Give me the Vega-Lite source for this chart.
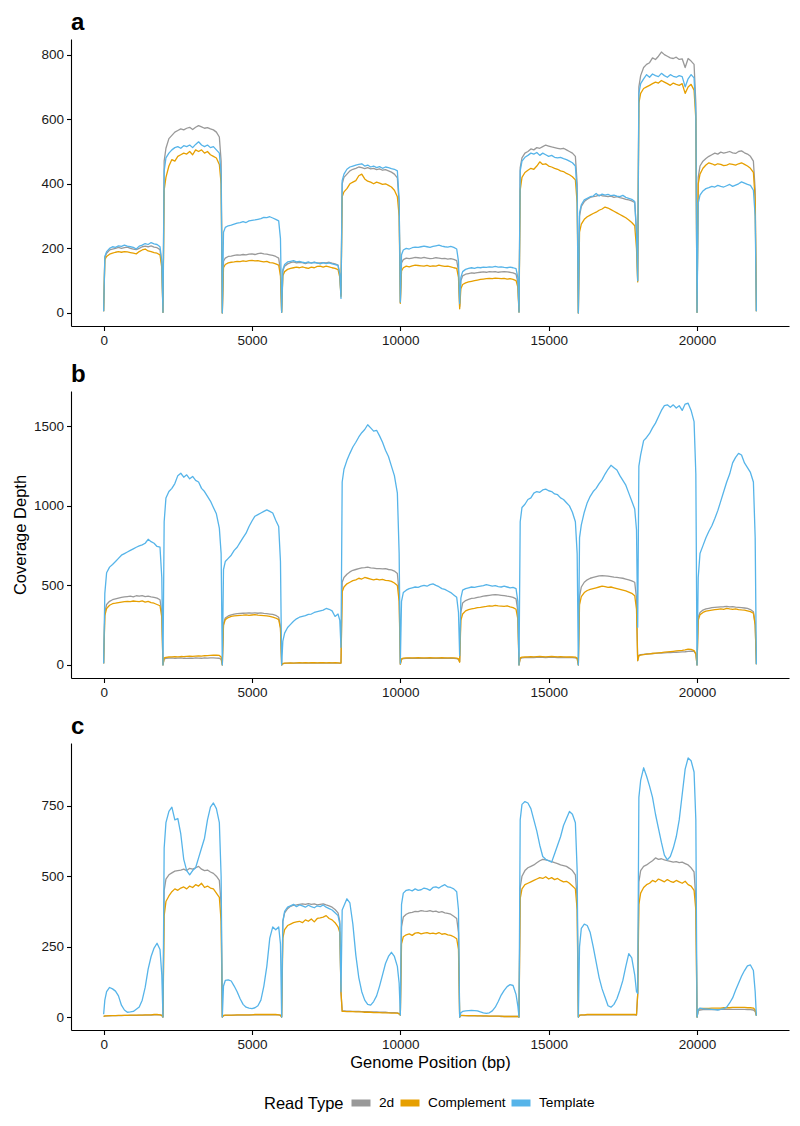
{
"$schema":"https://vega.github.io/schema/vega-lite/v6.json",
"padding":{"left":12,"top":11,"right":10,"bottom":5},
"config":{"font":"Liberation Sans","view":{"stroke":null},
"axis":{"grid":false,"domainColor":"black","domainWidth":1.1,"tickColor":"black","tickWidth":1.1,"tickSize":4.5,"labelFontSize":13.5,"labelColor":"#1a1a1a","labelPadding":3,"titleFontSize":16.5,"titleFontWeight":"normal","titleColor":"black"},
"title":{"fontSize":24,"fontWeight":"bold","anchor":"start","frame":"group","color":"black","offset":4}},
"spacing":16,
"resolve":{"scale":{"color":"shared","y":"independent"}},
"datasets":{
"a":[
{"x":0,"2d":5,"Complement":5,"Template":5},{"x":40,"2d":172,"Complement":165,"Template":175},{"x":100,"2d":185,"Complement":175,"Template":190},{"x":200,"2d":195,"Complement":182,"Template":200},{"x":300,"2d":198,"Complement":185,"Template":205},{"x":400,"2d":200,"Complement":188,"Template":203},{"x":500,"2d":203,"Complement":190,"Template":208},{"x":600,"2d":200,"Complement":188,"Template":206},{"x":700,"2d":202,"Complement":190,"Template":210},{"x":800,"2d":204,"Complement":189,"Template":207},{"x":900,"2d":200,"Complement":187,"Template":205},{"x":1000,"2d":198,"Complement":185,"Template":203},{"x":1100,"2d":196,"Complement":183,"Template":198},{"x":1200,"2d":200,"Complement":190,"Template":207},{"x":1300,"2d":205,"Complement":195,"Template":210},{"x":1400,"2d":207,"Complement":198,"Template":215},{"x":1500,"2d":205,"Complement":192,"Template":212},{"x":1600,"2d":208,"Complement":190,"Template":218},{"x":1700,"2d":204,"Complement":187,"Template":214},{"x":1800,"2d":202,"Complement":185,"Template":212},{"x":1900,"2d":196,"Complement":180,"Template":205},{"x":1960,"2d":150,"Complement":140,"Template":160},
{"x":2000,"2d":2,"Complement":2,"Template":2},{"x":2040,"2d":470,"Complement":380,"Template":440},{"x":2100,"2d":510,"Complement":420,"Template":480},{"x":2200,"2d":540,"Complement":455,"Template":495},{"x":2300,"2d":550,"Complement":475,"Template":505},{"x":2400,"2d":560,"Complement":470,"Template":512},{"x":2500,"2d":565,"Complement":485,"Template":515},{"x":2600,"2d":570,"Complement":490,"Template":510},{"x":2700,"2d":567,"Complement":495,"Template":518},{"x":2800,"2d":572,"Complement":492,"Template":515},{"x":2900,"2d":575,"Complement":500,"Template":520},{"x":3000,"2d":568,"Complement":490,"Template":512},{"x":3100,"2d":575,"Complement":505,"Template":522},{"x":3200,"2d":580,"Complement":500,"Template":530},{"x":3300,"2d":576,"Complement":505,"Template":520},{"x":3400,"2d":572,"Complement":495,"Template":515},{"x":3500,"2d":574,"Complement":500,"Template":520},{"x":3600,"2d":570,"Complement":490,"Template":512},{"x":3700,"2d":567,"Complement":485,"Template":515},{"x":3800,"2d":560,"Complement":480,"Template":505},{"x":3900,"2d":545,"Complement":460,"Template":495},{"x":3960,"2d":470,"Complement":400,"Template":430},
{"x":4000,"2d":0,"Complement":0,"Template":0},{"x":4040,"2d":160,"Complement":140,"Template":250},{"x":4100,"2d":170,"Complement":150,"Template":265},{"x":4200,"2d":175,"Complement":155,"Template":270},{"x":4300,"2d":176,"Complement":157,"Template":272},{"x":4400,"2d":178,"Complement":158,"Template":275},{"x":4500,"2d":180,"Complement":160,"Template":278},{"x":4600,"2d":179,"Complement":159,"Template":280},{"x":4700,"2d":181,"Complement":161,"Template":283},{"x":4800,"2d":180,"Complement":160,"Template":280},{"x":4900,"2d":182,"Complement":162,"Template":285},{"x":5000,"2d":183,"Complement":163,"Template":287},{"x":5100,"2d":181,"Complement":161,"Template":288},{"x":5200,"2d":184,"Complement":162,"Template":290},{"x":5300,"2d":185,"Complement":160,"Template":292},{"x":5400,"2d":183,"Complement":158,"Template":296},{"x":5500,"2d":182,"Complement":160,"Template":295},{"x":5600,"2d":180,"Complement":156,"Template":298},{"x":5700,"2d":178,"Complement":155,"Template":294},{"x":5800,"2d":175,"Complement":152,"Template":290},{"x":5900,"2d":170,"Complement":148,"Template":285},{"x":5960,"2d":130,"Complement":115,"Template":230},
{"x":6000,"2d":2,"Complement":2,"Template":2},{"x":6040,"2d":130,"Complement":115,"Template":135},{"x":6100,"2d":145,"Complement":128,"Template":150},{"x":6200,"2d":152,"Complement":135,"Template":158},{"x":6300,"2d":156,"Complement":138,"Template":160},{"x":6400,"2d":158,"Complement":140,"Template":162},{"x":6500,"2d":155,"Complement":142,"Template":158},{"x":6600,"2d":157,"Complement":140,"Template":160},{"x":6700,"2d":156,"Complement":143,"Template":157},{"x":6800,"2d":153,"Complement":140,"Template":155},{"x":6900,"2d":156,"Complement":138,"Template":158},{"x":7000,"2d":155,"Complement":142,"Template":154},{"x":7100,"2d":157,"Complement":140,"Template":157},{"x":7200,"2d":154,"Complement":144,"Template":155},{"x":7300,"2d":155,"Complement":145,"Template":152},{"x":7400,"2d":156,"Complement":142,"Template":156},{"x":7500,"2d":155,"Complement":145,"Template":153},{"x":7600,"2d":157,"Complement":143,"Template":155},{"x":7700,"2d":154,"Complement":140,"Template":152},{"x":7800,"2d":152,"Complement":138,"Template":150},{"x":7900,"2d":148,"Complement":134,"Template":147},{"x":7960,"2d":118,"Complement":110,"Template":120},
{"x":8000,"2d":55,"Complement":50,"Template":45},{"x":8040,"2d":400,"Complement":360,"Template":410},{"x":8100,"2d":420,"Complement":375,"Template":430},{"x":8200,"2d":430,"Complement":385,"Template":445},{"x":8300,"2d":440,"Complement":400,"Template":452},{"x":8400,"2d":445,"Complement":405,"Template":455},{"x":8500,"2d":448,"Complement":410,"Template":458},{"x":8600,"2d":452,"Complement":425,"Template":460},{"x":8700,"2d":450,"Complement":430,"Template":462},{"x":8800,"2d":447,"Complement":415,"Template":455},{"x":8900,"2d":450,"Complement":408,"Template":458},{"x":9000,"2d":446,"Complement":405,"Template":452},{"x":9100,"2d":448,"Complement":400,"Template":455},{"x":9200,"2d":444,"Complement":405,"Template":450},{"x":9300,"2d":446,"Complement":402,"Template":453},{"x":9400,"2d":442,"Complement":398,"Template":448},{"x":9500,"2d":444,"Complement":400,"Template":452},{"x":9600,"2d":440,"Complement":395,"Template":450},{"x":9700,"2d":436,"Complement":390,"Template":447},{"x":9800,"2d":430,"Complement":380,"Template":445},{"x":9900,"2d":418,"Complement":360,"Template":440},{"x":9960,"2d":340,"Complement":300,"Template":350},
{"x":10000,"2d":32,"Complement":30,"Template":34},{"x":10040,"2d":155,"Complement":130,"Template":180},{"x":10100,"2d":165,"Complement":140,"Template":195},{"x":10200,"2d":170,"Complement":145,"Template":200},{"x":10300,"2d":168,"Complement":143,"Template":198},{"x":10400,"2d":170,"Complement":146,"Template":202},{"x":10500,"2d":172,"Complement":148,"Template":204},{"x":10600,"2d":171,"Complement":147,"Template":203},{"x":10700,"2d":170,"Complement":146,"Template":205},{"x":10800,"2d":172,"Complement":145,"Template":207},{"x":10900,"2d":170,"Complement":147,"Template":205},{"x":11000,"2d":168,"Complement":144,"Template":203},{"x":11100,"2d":169,"Complement":146,"Template":206},{"x":11200,"2d":171,"Complement":145,"Template":208},{"x":11300,"2d":170,"Complement":148,"Template":210},{"x":11400,"2d":168,"Complement":146,"Template":207},{"x":11500,"2d":169,"Complement":144,"Template":205},{"x":11600,"2d":167,"Complement":145,"Template":204},{"x":11700,"2d":168,"Complement":143,"Template":206},{"x":11800,"2d":166,"Complement":140,"Template":203},{"x":11900,"2d":162,"Complement":138,"Template":198},{"x":11960,"2d":130,"Complement":110,"Template":160},
{"x":12000,"2d":20,"Complement":13,"Template":29},{"x":12040,"2d":100,"Complement":75,"Template":110},{"x":12100,"2d":115,"Complement":88,"Template":128},{"x":12200,"2d":120,"Complement":93,"Template":135},{"x":12300,"2d":122,"Complement":96,"Template":138},{"x":12400,"2d":124,"Complement":98,"Template":140},{"x":12500,"2d":123,"Complement":100,"Template":138},{"x":12600,"2d":125,"Complement":102,"Template":141},{"x":12700,"2d":126,"Complement":104,"Template":140},{"x":12800,"2d":127,"Complement":105,"Template":142},{"x":12900,"2d":126,"Complement":106,"Template":141},{"x":13000,"2d":128,"Complement":107,"Template":143},{"x":13100,"2d":127,"Complement":106,"Template":142},{"x":13200,"2d":128,"Complement":108,"Template":144},{"x":13300,"2d":126,"Complement":107,"Template":142},{"x":13400,"2d":127,"Complement":106,"Template":143},{"x":13500,"2d":128,"Complement":107,"Template":141},{"x":13600,"2d":127,"Complement":105,"Template":140},{"x":13700,"2d":126,"Complement":106,"Template":142},{"x":13800,"2d":124,"Complement":104,"Template":140},{"x":13900,"2d":120,"Complement":100,"Template":137},{"x":13960,"2d":95,"Complement":80,"Template":110},
{"x":14000,"2d":3,"Complement":3,"Template":3},{"x":14040,"2d":450,"Complement":380,"Template":440},{"x":14100,"2d":480,"Complement":420,"Template":470},{"x":14200,"2d":495,"Complement":435,"Template":482},{"x":14300,"2d":500,"Complement":442,"Template":488},{"x":14400,"2d":508,"Complement":448,"Template":495},{"x":14500,"2d":505,"Complement":445,"Template":492},{"x":14600,"2d":512,"Complement":455,"Template":497},{"x":14700,"2d":510,"Complement":468,"Template":488},{"x":14800,"2d":515,"Complement":460,"Template":495},{"x":14900,"2d":520,"Complement":462,"Template":490},{"x":15000,"2d":517,"Complement":455,"Template":485},{"x":15100,"2d":514,"Complement":452,"Template":488},{"x":15200,"2d":512,"Complement":448,"Template":482},{"x":15300,"2d":510,"Complement":445,"Template":480},{"x":15400,"2d":508,"Complement":440,"Template":482},{"x":15500,"2d":510,"Complement":438,"Template":478},{"x":15600,"2d":505,"Complement":432,"Template":475},{"x":15700,"2d":500,"Complement":428,"Template":470},{"x":15800,"2d":495,"Complement":422,"Template":465},{"x":15900,"2d":485,"Complement":412,"Template":455},{"x":15960,"2d":400,"Complement":340,"Template":370},
{"x":16000,"2d":0,"Complement":0,"Template":0},{"x":16040,"2d":300,"Complement":250,"Template":310},{"x":16100,"2d":330,"Complement":275,"Template":335},{"x":16200,"2d":345,"Complement":290,"Template":350},{"x":16300,"2d":352,"Complement":298,"Template":355},{"x":16400,"2d":358,"Complement":303,"Template":360},{"x":16500,"2d":360,"Complement":308,"Template":362},{"x":16600,"2d":362,"Complement":312,"Template":370},{"x":16700,"2d":365,"Complement":318,"Template":362},{"x":16800,"2d":363,"Complement":322,"Template":368},{"x":16900,"2d":362,"Complement":328,"Template":365},{"x":17000,"2d":360,"Complement":325,"Template":367},{"x":17100,"2d":362,"Complement":320,"Template":363},{"x":17200,"2d":358,"Complement":315,"Template":365},{"x":17300,"2d":360,"Complement":310,"Template":362},{"x":17400,"2d":357,"Complement":305,"Template":360},{"x":17500,"2d":355,"Complement":300,"Template":364},{"x":17600,"2d":352,"Complement":295,"Template":358},{"x":17700,"2d":350,"Complement":288,"Template":355},{"x":17800,"2d":347,"Complement":280,"Template":352},{"x":17900,"2d":342,"Complement":270,"Template":345},{"x":17960,"2d":250,"Complement":200,"Template":250},
{"x":18000,"2d":100,"Complement":96,"Template":100},{"x":18040,"2d":700,"Complement":650,"Template":680},{"x":18100,"2d":735,"Complement":680,"Template":710},{"x":18200,"2d":760,"Complement":695,"Template":725},{"x":18300,"2d":770,"Complement":700,"Template":738},{"x":18400,"2d":775,"Complement":705,"Template":730},{"x":18500,"2d":790,"Complement":710,"Template":740},{"x":18600,"2d":785,"Complement":715,"Template":735},{"x":18700,"2d":795,"Complement":712,"Template":732},{"x":18800,"2d":808,"Complement":720,"Template":742},{"x":18900,"2d":800,"Complement":715,"Template":735},{"x":19000,"2d":795,"Complement":710,"Template":730},{"x":19100,"2d":790,"Complement":705,"Template":738},{"x":19200,"2d":788,"Complement":712,"Template":733},{"x":19300,"2d":792,"Complement":708,"Template":730},{"x":19400,"2d":785,"Complement":705,"Template":735},{"x":19500,"2d":787,"Complement":710,"Template":732},{"x":19600,"2d":760,"Complement":680,"Template":700},{"x":19700,"2d":788,"Complement":700,"Template":725},{"x":19800,"2d":780,"Complement":708,"Template":738},{"x":19900,"2d":770,"Complement":690,"Template":728},{"x":19960,"2d":650,"Complement":600,"Template":620},
{"x":20000,"2d":2,"Complement":2,"Template":2},{"x":20040,"2d":420,"Complement":400,"Template":340},{"x":20100,"2d":455,"Complement":430,"Template":365},{"x":20200,"2d":470,"Complement":448,"Template":378},{"x":20300,"2d":478,"Complement":458,"Template":385},{"x":20400,"2d":485,"Complement":465,"Template":388},{"x":20500,"2d":490,"Complement":462,"Template":392},{"x":20600,"2d":495,"Complement":458,"Template":390},{"x":20700,"2d":492,"Complement":462,"Template":395},{"x":20800,"2d":498,"Complement":460,"Template":392},{"x":20900,"2d":495,"Complement":456,"Template":390},{"x":21000,"2d":497,"Complement":458,"Template":394},{"x":21100,"2d":500,"Complement":462,"Template":398},{"x":21200,"2d":496,"Complement":460,"Template":392},{"x":21300,"2d":494,"Complement":458,"Template":396},{"x":21400,"2d":500,"Complement":462,"Template":400},{"x":21500,"2d":502,"Complement":465,"Template":406},{"x":21600,"2d":496,"Complement":460,"Template":402},{"x":21700,"2d":492,"Complement":455,"Template":398},{"x":21800,"2d":485,"Complement":448,"Template":395},{"x":21900,"2d":470,"Complement":435,"Template":380},{"x":21960,"2d":380,"Complement":350,"Template":300},
{"x":22000,"2d":5,"Complement":5,"Template":5}
],
"b":[
{"x":0,"2d":10,"Complement":10,"Template":10},{"x":40,"2d":330,"Complement":310,"Template":450},{"x":100,"2d":380,"Complement":355,"Template":580},{"x":200,"2d":400,"Complement":375,"Template":615},{"x":300,"2d":410,"Complement":385,"Template":632},{"x":400,"2d":415,"Complement":388,"Template":650},{"x":500,"2d":420,"Complement":392,"Template":670},{"x":600,"2d":425,"Complement":395,"Template":690},{"x":700,"2d":428,"Complement":398,"Template":700},{"x":800,"2d":430,"Complement":400,"Template":710},{"x":900,"2d":432,"Complement":398,"Template":720},{"x":1000,"2d":428,"Complement":402,"Template":730},{"x":1100,"2d":435,"Complement":400,"Template":740},{"x":1200,"2d":432,"Complement":398,"Template":748},{"x":1300,"2d":436,"Complement":403,"Template":755},{"x":1400,"2d":430,"Complement":395,"Template":765},{"x":1500,"2d":432,"Complement":400,"Template":790},{"x":1600,"2d":428,"Complement":392,"Template":775},{"x":1700,"2d":425,"Complement":388,"Template":765},{"x":1800,"2d":420,"Complement":380,"Template":745},{"x":1900,"2d":410,"Complement":372,"Template":740},{"x":1960,"2d":330,"Complement":300,"Template":550},
{"x":2000,"2d":0,"Complement":0,"Template":0},{"x":2040,"2d":38,"Complement":45,"Template":900},{"x":2100,"2d":42,"Complement":48,"Template":1050},{"x":2200,"2d":43,"Complement":50,"Template":1090},{"x":2300,"2d":44,"Complement":51,"Template":1110},{"x":2400,"2d":42,"Complement":52,"Template":1140},{"x":2500,"2d":43,"Complement":51,"Template":1190},{"x":2600,"2d":44,"Complement":53,"Template":1205},{"x":2700,"2d":42,"Complement":52,"Template":1180},{"x":2800,"2d":41,"Complement":54,"Template":1195},{"x":2900,"2d":43,"Complement":55,"Template":1170},{"x":3000,"2d":42,"Complement":54,"Template":1185},{"x":3100,"2d":44,"Complement":56,"Template":1160},{"x":3200,"2d":43,"Complement":57,"Template":1150},{"x":3300,"2d":42,"Complement":56,"Template":1110},{"x":3400,"2d":44,"Complement":58,"Template":1090},{"x":3500,"2d":43,"Complement":59,"Template":1060},{"x":3600,"2d":45,"Complement":60,"Template":1030},{"x":3700,"2d":44,"Complement":61,"Template":990},{"x":3800,"2d":43,"Complement":62,"Template":950},{"x":3900,"2d":42,"Complement":60,"Template":860},{"x":3960,"2d":35,"Complement":50,"Template":700},
{"x":4000,"2d":0,"Complement":0,"Template":0},{"x":4040,"2d":260,"Complement":250,"Template":600},{"x":4100,"2d":295,"Complement":285,"Template":650},{"x":4200,"2d":308,"Complement":298,"Template":670},{"x":4300,"2d":315,"Complement":305,"Template":690},{"x":4400,"2d":320,"Complement":308,"Template":720},{"x":4500,"2d":322,"Complement":310,"Template":740},{"x":4600,"2d":324,"Complement":312,"Template":770},{"x":4700,"2d":325,"Complement":313,"Template":800},{"x":4800,"2d":326,"Complement":315,"Template":828},{"x":4900,"2d":328,"Complement":312,"Template":870},{"x":5000,"2d":326,"Complement":314,"Template":905},{"x":5100,"2d":328,"Complement":316,"Template":935},{"x":5200,"2d":325,"Complement":313,"Template":945},{"x":5300,"2d":327,"Complement":312,"Template":955},{"x":5400,"2d":324,"Complement":310,"Template":965},{"x":5500,"2d":322,"Complement":308,"Template":975},{"x":5600,"2d":320,"Complement":305,"Template":965},{"x":5700,"2d":318,"Complement":300,"Template":955},{"x":5800,"2d":312,"Complement":295,"Template":910},{"x":5900,"2d":300,"Complement":285,"Template":870},{"x":5960,"2d":240,"Complement":230,"Template":650},
{"x":6000,"2d":0,"Complement":0,"Template":0},{"x":6040,"2d":8,"Complement":8,"Template":150},{"x":6100,"2d":10,"Complement":11,"Template":200},{"x":6200,"2d":11,"Complement":12,"Template":235},{"x":6300,"2d":12,"Complement":13,"Template":255},{"x":6400,"2d":12,"Complement":12,"Template":275},{"x":6500,"2d":11,"Complement":13,"Template":290},{"x":6600,"2d":12,"Complement":14,"Template":300},{"x":6700,"2d":12,"Complement":13,"Template":305},{"x":6800,"2d":13,"Complement":14,"Template":310},{"x":6900,"2d":12,"Complement":13,"Template":318},{"x":7000,"2d":12,"Complement":14,"Template":320},{"x":7100,"2d":13,"Complement":14,"Template":330},{"x":7200,"2d":12,"Complement":13,"Template":335},{"x":7300,"2d":12,"Complement":14,"Template":340},{"x":7400,"2d":13,"Complement":14,"Template":345},{"x":7500,"2d":12,"Complement":13,"Template":355},{"x":7600,"2d":12,"Complement":14,"Template":350},{"x":7700,"2d":13,"Complement":13,"Template":340},{"x":7800,"2d":12,"Complement":14,"Template":305},{"x":7900,"2d":12,"Complement":13,"Template":320},{"x":7960,"2d":11,"Complement":12,"Template":280},
{"x":8000,"2d":12,"Complement":12,"Template":111},{"x":8040,"2d":520,"Complement":460,"Template":1150},{"x":8100,"2d":550,"Complement":490,"Template":1230},{"x":8200,"2d":570,"Complement":510,"Template":1286},{"x":8300,"2d":585,"Complement":520,"Template":1330},{"x":8400,"2d":595,"Complement":530,"Template":1370},{"x":8500,"2d":600,"Complement":535,"Template":1400},{"x":8600,"2d":605,"Complement":545,"Template":1433},{"x":8700,"2d":610,"Complement":540,"Template":1460},{"x":8800,"2d":612,"Complement":550,"Template":1480},{"x":8900,"2d":615,"Complement":545,"Template":1510},{"x":9000,"2d":610,"Complement":540,"Template":1490},{"x":9100,"2d":608,"Complement":535,"Template":1470},{"x":9200,"2d":605,"Complement":540,"Template":1475},{"x":9300,"2d":606,"Complement":535,"Template":1440},{"x":9400,"2d":604,"Complement":538,"Template":1400},{"x":9500,"2d":605,"Complement":532,"Template":1350},{"x":9600,"2d":600,"Complement":530,"Template":1310},{"x":9700,"2d":598,"Complement":525,"Template":1250},{"x":9800,"2d":590,"Complement":515,"Template":1190},{"x":9900,"2d":575,"Complement":500,"Template":1080},{"x":9960,"2d":450,"Complement":400,"Template":700},
{"x":10000,"2d":5,"Complement":5,"Template":10},{"x":10040,"2d":35,"Complement":38,"Template":400},{"x":10100,"2d":40,"Complement":43,"Template":455},{"x":10200,"2d":41,"Complement":44,"Template":470},{"x":10300,"2d":42,"Complement":45,"Template":480},{"x":10400,"2d":41,"Complement":44,"Template":485},{"x":10500,"2d":42,"Complement":45,"Template":490},{"x":10600,"2d":43,"Complement":46,"Template":488},{"x":10700,"2d":42,"Complement":45,"Template":495},{"x":10800,"2d":41,"Complement":44,"Template":500},{"x":10900,"2d":42,"Complement":45,"Template":495},{"x":11000,"2d":43,"Complement":46,"Template":505},{"x":11100,"2d":42,"Complement":45,"Template":510},{"x":11200,"2d":41,"Complement":44,"Template":500},{"x":11300,"2d":42,"Complement":45,"Template":492},{"x":11400,"2d":43,"Complement":46,"Template":480},{"x":11500,"2d":42,"Complement":45,"Template":475},{"x":11600,"2d":41,"Complement":44,"Template":465},{"x":11700,"2d":42,"Complement":45,"Template":455},{"x":11800,"2d":41,"Complement":44,"Template":440},{"x":11900,"2d":40,"Complement":43,"Template":425},{"x":11960,"2d":35,"Complement":38,"Template":330},
{"x":12000,"2d":20,"Complement":17,"Template":59},{"x":12040,"2d":330,"Complement":280,"Template":420},{"x":12100,"2d":390,"Complement":320,"Template":470},{"x":12200,"2d":405,"Complement":340,"Template":480},{"x":12300,"2d":412,"Complement":348,"Template":485},{"x":12400,"2d":418,"Complement":352,"Template":490},{"x":12500,"2d":420,"Complement":355,"Template":488},{"x":12600,"2d":425,"Complement":360,"Template":492},{"x":12700,"2d":428,"Complement":362,"Template":495},{"x":12800,"2d":432,"Complement":365,"Template":498},{"x":12900,"2d":435,"Complement":368,"Template":505},{"x":13000,"2d":438,"Complement":372,"Template":500},{"x":13100,"2d":440,"Complement":370,"Template":495},{"x":13200,"2d":442,"Complement":375,"Template":498},{"x":13300,"2d":440,"Complement":372,"Template":492},{"x":13400,"2d":438,"Complement":370,"Template":490},{"x":13500,"2d":436,"Complement":368,"Template":495},{"x":13600,"2d":432,"Complement":372,"Template":490},{"x":13700,"2d":430,"Complement":365,"Template":485},{"x":13800,"2d":425,"Complement":360,"Template":488},{"x":13900,"2d":415,"Complement":350,"Template":480},{"x":13960,"2d":340,"Complement":290,"Template":400},
{"x":14000,"2d":0,"Complement":0,"Template":0},{"x":14040,"2d":40,"Complement":44,"Template":900},{"x":14100,"2d":45,"Complement":49,"Template":990},{"x":14200,"2d":46,"Complement":50,"Template":1010},{"x":14300,"2d":47,"Complement":51,"Template":1040},{"x":14400,"2d":48,"Complement":52,"Template":1050},{"x":14500,"2d":47,"Complement":51,"Template":1080},{"x":14600,"2d":48,"Complement":52,"Template":1090},{"x":14700,"2d":49,"Complement":53,"Template":1085},{"x":14800,"2d":48,"Complement":52,"Template":1100},{"x":14900,"2d":47,"Complement":51,"Template":1105},{"x":15000,"2d":48,"Complement":52,"Template":1095},{"x":15100,"2d":49,"Complement":53,"Template":1090},{"x":15200,"2d":48,"Complement":52,"Template":1075},{"x":15300,"2d":47,"Complement":51,"Template":1070},{"x":15400,"2d":48,"Complement":52,"Template":1050},{"x":15500,"2d":47,"Complement":51,"Template":1040},{"x":15600,"2d":46,"Complement":50,"Template":1020},{"x":15700,"2d":47,"Complement":51,"Template":1000},{"x":15800,"2d":46,"Complement":50,"Template":960},{"x":15900,"2d":45,"Complement":49,"Template":900},{"x":15960,"2d":40,"Complement":43,"Template":700},
{"x":16000,"2d":0,"Complement":0,"Template":0},{"x":16040,"2d":430,"Complement":380,"Template":800},{"x":16100,"2d":490,"Complement":430,"Template":880},{"x":16200,"2d":520,"Complement":455,"Template":960},{"x":16300,"2d":535,"Complement":468,"Template":1020},{"x":16400,"2d":545,"Complement":475,"Template":1060},{"x":16500,"2d":550,"Complement":480,"Template":1090},{"x":16600,"2d":555,"Complement":485,"Template":1110},{"x":16700,"2d":560,"Complement":490,"Template":1140},{"x":16800,"2d":562,"Complement":495,"Template":1165},{"x":16900,"2d":560,"Complement":492,"Template":1200},{"x":17000,"2d":558,"Complement":488,"Template":1230},{"x":17100,"2d":555,"Complement":490,"Template":1255},{"x":17200,"2d":552,"Complement":485,"Template":1240},{"x":17300,"2d":550,"Complement":480,"Template":1225},{"x":17400,"2d":548,"Complement":475,"Template":1190},{"x":17500,"2d":545,"Complement":470,"Template":1160},{"x":17600,"2d":540,"Complement":465,"Template":1130},{"x":17700,"2d":535,"Complement":458,"Template":1080},{"x":17800,"2d":528,"Complement":450,"Template":1030},{"x":17900,"2d":520,"Complement":435,"Template":980},{"x":17960,"2d":420,"Complement":350,"Template":850},
{"x":18000,"2d":27,"Complement":27,"Template":237},{"x":18040,"2d":60,"Complement":58,"Template":1250},{"x":18100,"2d":65,"Complement":62,"Template":1320},{"x":18200,"2d":67,"Complement":65,"Template":1410},{"x":18300,"2d":69,"Complement":68,"Template":1430},{"x":18400,"2d":70,"Complement":70,"Template":1455},{"x":18500,"2d":72,"Complement":72,"Template":1490},{"x":18600,"2d":73,"Complement":74,"Template":1520},{"x":18700,"2d":74,"Complement":76,"Template":1560},{"x":18800,"2d":75,"Complement":78,"Template":1600},{"x":18900,"2d":76,"Complement":80,"Template":1630},{"x":19000,"2d":77,"Complement":82,"Template":1635},{"x":19100,"2d":78,"Complement":84,"Template":1620},{"x":19200,"2d":79,"Complement":86,"Template":1635},{"x":19300,"2d":80,"Complement":88,"Template":1615},{"x":19400,"2d":81,"Complement":90,"Template":1630},{"x":19500,"2d":82,"Complement":92,"Template":1600},{"x":19600,"2d":83,"Complement":95,"Template":1640},{"x":19700,"2d":85,"Complement":100,"Template":1645},{"x":19800,"2d":86,"Complement":98,"Template":1600},{"x":19900,"2d":85,"Complement":90,"Template":1530},{"x":19960,"2d":70,"Complement":70,"Template":1200},
{"x":20000,"2d":0,"Complement":0,"Template":0},{"x":20040,"2d":300,"Complement":280,"Template":550},{"x":20100,"2d":330,"Complement":315,"Template":700},{"x":20200,"2d":345,"Complement":330,"Template":750},{"x":20300,"2d":352,"Complement":338,"Template":800},{"x":20400,"2d":356,"Complement":342,"Template":840},{"x":20500,"2d":360,"Complement":345,"Template":875},{"x":20600,"2d":362,"Complement":348,"Template":920},{"x":20700,"2d":364,"Complement":350,"Template":970},{"x":20800,"2d":365,"Complement":352,"Template":1030},{"x":20900,"2d":366,"Complement":350,"Template":1090},{"x":21000,"2d":368,"Complement":355,"Template":1150},{"x":21100,"2d":365,"Complement":352,"Template":1200},{"x":21200,"2d":367,"Complement":350,"Template":1270},{"x":21300,"2d":364,"Complement":352,"Template":1305},{"x":21400,"2d":362,"Complement":348,"Template":1330},{"x":21500,"2d":360,"Complement":346,"Template":1320},{"x":21600,"2d":358,"Complement":345,"Template":1270},{"x":21700,"2d":355,"Complement":340,"Template":1240},{"x":21800,"2d":348,"Complement":335,"Template":1210},{"x":21900,"2d":335,"Complement":325,"Template":1150},{"x":21960,"2d":260,"Complement":250,"Template":800},
{"x":22000,"2d":5,"Complement":5,"Template":5}
],
"c":[
{"x":0,"2d":2,"Complement":2,"Template":10},{"x":40,"2d":3,"Complement":4,"Template":60},{"x":100,"2d":4,"Complement":4,"Template":90},{"x":200,"2d":4,"Complement":5,"Template":105},{"x":300,"2d":5,"Complement":5,"Template":100},{"x":400,"2d":5,"Complement":5,"Template":92},{"x":500,"2d":5,"Complement":6,"Template":75},{"x":600,"2d":5,"Complement":6,"Template":42},{"x":700,"2d":6,"Complement":6,"Template":25},{"x":800,"2d":6,"Complement":6,"Template":17},{"x":900,"2d":6,"Complement":7,"Template":18},{"x":1000,"2d":6,"Complement":7,"Template":20},{"x":1100,"2d":6,"Complement":7,"Template":28},{"x":1200,"2d":7,"Complement":7,"Template":36},{"x":1300,"2d":7,"Complement":7,"Template":60},{"x":1400,"2d":7,"Complement":8,"Template":105},{"x":1500,"2d":7,"Complement":8,"Template":170},{"x":1600,"2d":7,"Complement":8,"Template":215},{"x":1700,"2d":8,"Complement":9,"Template":245},{"x":1800,"2d":8,"Complement":9,"Template":262},{"x":1900,"2d":8,"Complement":8,"Template":240},{"x":1960,"2d":6,"Complement":6,"Template":150},
{"x":2000,"2d":0,"Complement":0,"Template":0},{"x":2040,"2d":450,"Complement":360,"Template":600},{"x":2100,"2d":490,"Complement":410,"Template":690},{"x":2200,"2d":505,"Complement":430,"Template":730},{"x":2300,"2d":512,"Complement":445,"Template":745},{"x":2400,"2d":518,"Complement":455,"Template":700},{"x":2500,"2d":520,"Complement":450,"Template":705},{"x":2600,"2d":522,"Complement":458,"Template":650},{"x":2700,"2d":525,"Complement":462,"Template":560},{"x":2800,"2d":520,"Complement":455,"Template":520},{"x":2900,"2d":528,"Complement":465,"Template":505},{"x":3000,"2d":525,"Complement":460,"Template":520},{"x":3100,"2d":530,"Complement":470,"Template":530},{"x":3200,"2d":535,"Complement":465,"Template":565},{"x":3300,"2d":525,"Complement":475,"Template":600},{"x":3400,"2d":520,"Complement":460,"Template":635},{"x":3500,"2d":522,"Complement":465,"Template":700},{"x":3600,"2d":515,"Complement":458,"Template":745},{"x":3700,"2d":510,"Complement":455,"Template":760},{"x":3800,"2d":500,"Complement":440,"Template":740},{"x":3900,"2d":485,"Complement":425,"Template":690},{"x":3960,"2d":400,"Complement":340,"Template":500},
{"x":4000,"2d":0,"Complement":0,"Template":0},{"x":4040,"2d":5,"Complement":6,"Template":110},{"x":4100,"2d":6,"Complement":7,"Template":130},{"x":4200,"2d":6,"Complement":7,"Template":132},{"x":4300,"2d":6,"Complement":7,"Template":128},{"x":4400,"2d":7,"Complement":7,"Template":110},{"x":4500,"2d":7,"Complement":8,"Template":90},{"x":4600,"2d":7,"Complement":8,"Template":65},{"x":4700,"2d":7,"Complement":8,"Template":45},{"x":4800,"2d":7,"Complement":8,"Template":35},{"x":4900,"2d":7,"Complement":8,"Template":32},{"x":5000,"2d":8,"Complement":8,"Template":30},{"x":5100,"2d":8,"Complement":9,"Template":33},{"x":5200,"2d":8,"Complement":9,"Template":40},{"x":5300,"2d":8,"Complement":9,"Template":60},{"x":5400,"2d":8,"Complement":9,"Template":110},{"x":5500,"2d":8,"Complement":9,"Template":180},{"x":5600,"2d":8,"Complement":9,"Template":280},{"x":5700,"2d":8,"Complement":9,"Template":320},{"x":5800,"2d":8,"Complement":9,"Template":310},{"x":5900,"2d":8,"Complement":8,"Template":320},{"x":5960,"2d":6,"Complement":7,"Template":260},
{"x":6000,"2d":0,"Complement":0,"Template":0},{"x":6040,"2d":340,"Complement":280,"Template":340},{"x":6100,"2d":370,"Complement":310,"Template":375},{"x":6200,"2d":385,"Complement":325,"Template":390},{"x":6300,"2d":393,"Complement":330,"Template":395},{"x":6400,"2d":397,"Complement":335,"Template":400},{"x":6500,"2d":398,"Complement":338,"Template":392},{"x":6600,"2d":400,"Complement":340,"Template":398},{"x":6700,"2d":402,"Complement":335,"Template":395},{"x":6800,"2d":400,"Complement":345,"Template":390},{"x":6900,"2d":403,"Complement":340,"Template":397},{"x":7000,"2d":400,"Complement":348,"Template":392},{"x":7100,"2d":402,"Complement":338,"Template":388},{"x":7200,"2d":398,"Complement":350,"Template":395},{"x":7300,"2d":400,"Complement":352,"Template":392},{"x":7400,"2d":402,"Complement":355,"Template":398},{"x":7500,"2d":398,"Complement":360,"Template":390},{"x":7600,"2d":395,"Complement":350,"Template":385},{"x":7700,"2d":390,"Complement":345,"Template":380},{"x":7800,"2d":382,"Complement":335,"Template":370},{"x":7900,"2d":370,"Complement":320,"Template":360},{"x":7960,"2d":340,"Complement":300,"Template":330},
{"x":8000,"2d":85,"Complement":90,"Template":90},{"x":8040,"2d":22,"Complement":20,"Template":380},{"x":8100,"2d":22,"Complement":20,"Template":395},{"x":8200,"2d":21,"Complement":19,"Template":420},{"x":8300,"2d":21,"Complement":19,"Template":405},{"x":8400,"2d":20,"Complement":19,"Template":330},{"x":8500,"2d":20,"Complement":18,"Template":220},{"x":8600,"2d":20,"Complement":18,"Template":140},{"x":8700,"2d":19,"Complement":18,"Template":90},{"x":8800,"2d":19,"Complement":17,"Template":60},{"x":8900,"2d":19,"Complement":17,"Template":45},{"x":9000,"2d":18,"Complement":17,"Template":42},{"x":9100,"2d":18,"Complement":16,"Template":55},{"x":9200,"2d":18,"Complement":16,"Template":75},{"x":9300,"2d":17,"Complement":16,"Template":110},{"x":9400,"2d":17,"Complement":15,"Template":150},{"x":9500,"2d":17,"Complement":15,"Template":190},{"x":9600,"2d":16,"Complement":15,"Template":215},{"x":9700,"2d":16,"Complement":14,"Template":230},{"x":9800,"2d":16,"Complement":14,"Template":215},{"x":9900,"2d":15,"Complement":14,"Template":180},{"x":9960,"2d":12,"Complement":11,"Template":120},
{"x":10000,"2d":7,"Complement":7,"Template":7},{"x":10040,"2d":320,"Complement":260,"Template":400},{"x":10100,"2d":355,"Complement":285,"Template":440},{"x":10200,"2d":365,"Complement":292,"Template":450},{"x":10300,"2d":370,"Complement":295,"Template":452},{"x":10400,"2d":372,"Complement":290,"Template":448},{"x":10500,"2d":375,"Complement":298,"Template":455},{"x":10600,"2d":374,"Complement":300,"Template":450},{"x":10700,"2d":378,"Complement":295,"Template":452},{"x":10800,"2d":376,"Complement":298,"Template":458},{"x":10900,"2d":375,"Complement":300,"Template":455},{"x":11000,"2d":378,"Complement":296,"Template":450},{"x":11100,"2d":374,"Complement":298,"Template":460},{"x":11200,"2d":376,"Complement":295,"Template":462},{"x":11300,"2d":372,"Complement":300,"Template":458},{"x":11400,"2d":374,"Complement":294,"Template":465},{"x":11500,"2d":370,"Complement":296,"Template":470},{"x":11600,"2d":368,"Complement":292,"Template":462},{"x":11700,"2d":365,"Complement":290,"Template":460},{"x":11800,"2d":358,"Complement":285,"Template":455},{"x":11900,"2d":350,"Complement":278,"Template":445},{"x":11960,"2d":300,"Complement":240,"Template":380},
{"x":12000,"2d":0,"Complement":0,"Template":0},{"x":12040,"2d":5,"Complement":6,"Template":15},{"x":12100,"2d":5,"Complement":6,"Template":20},{"x":12200,"2d":5,"Complement":5,"Template":22},{"x":12300,"2d":4,"Complement":5,"Template":23},{"x":12400,"2d":4,"Complement":5,"Template":24},{"x":12500,"2d":4,"Complement":5,"Template":23},{"x":12600,"2d":4,"Complement":4,"Template":22},{"x":12700,"2d":4,"Complement":4,"Template":18},{"x":12800,"2d":3,"Complement":4,"Template":15},{"x":12900,"2d":3,"Complement":4,"Template":13},{"x":13000,"2d":3,"Complement":3,"Template":15},{"x":13100,"2d":3,"Complement":3,"Template":22},{"x":13200,"2d":3,"Complement":3,"Template":35},{"x":13300,"2d":3,"Complement":3,"Template":55},{"x":13400,"2d":2,"Complement":3,"Template":78},{"x":13500,"2d":2,"Complement":2,"Template":95},{"x":13600,"2d":2,"Complement":2,"Template":108},{"x":13700,"2d":2,"Complement":2,"Template":115},{"x":13800,"2d":2,"Complement":2,"Template":112},{"x":13900,"2d":2,"Complement":2,"Template":80},{"x":13960,"2d":2,"Complement":2,"Template":40},
{"x":14000,"2d":0,"Complement":0,"Template":0},{"x":14040,"2d":460,"Complement":420,"Template":700},{"x":14100,"2d":500,"Complement":455,"Template":755},{"x":14200,"2d":520,"Complement":470,"Template":765},{"x":14300,"2d":530,"Complement":475,"Template":760},{"x":14400,"2d":535,"Complement":480,"Template":740},{"x":14500,"2d":540,"Complement":485,"Template":700},{"x":14600,"2d":548,"Complement":490,"Template":660},{"x":14700,"2d":555,"Complement":495,"Template":610},{"x":14800,"2d":560,"Complement":492,"Template":570},{"x":14900,"2d":558,"Complement":498,"Template":560},{"x":15000,"2d":555,"Complement":490,"Template":555},{"x":15100,"2d":552,"Complement":495,"Template":550},{"x":15200,"2d":548,"Complement":488,"Template":580},{"x":15300,"2d":545,"Complement":492,"Template":610},{"x":15400,"2d":540,"Complement":485,"Template":640},{"x":15500,"2d":538,"Complement":480,"Template":680},{"x":15600,"2d":535,"Complement":482,"Template":705},{"x":15700,"2d":528,"Complement":475,"Template":730},{"x":15800,"2d":520,"Complement":465,"Template":720},{"x":15900,"2d":505,"Complement":455,"Template":690},{"x":15960,"2d":420,"Complement":380,"Template":520},
{"x":16000,"2d":0,"Complement":0,"Template":0},{"x":16040,"2d":6,"Complement":7,"Template":250},{"x":16100,"2d":7,"Complement":8,"Template":315},{"x":16200,"2d":7,"Complement":8,"Template":330},{"x":16300,"2d":8,"Complement":9,"Template":325},{"x":16400,"2d":8,"Complement":9,"Template":300},{"x":16500,"2d":8,"Complement":9,"Template":250},{"x":16600,"2d":8,"Complement":9,"Template":195},{"x":16700,"2d":8,"Complement":9,"Template":140},{"x":16800,"2d":8,"Complement":9,"Template":100},{"x":16900,"2d":8,"Complement":9,"Template":70},{"x":17000,"2d":8,"Complement":9,"Template":40},{"x":17100,"2d":8,"Complement":9,"Template":35},{"x":17200,"2d":8,"Complement":9,"Template":45},{"x":17300,"2d":8,"Complement":9,"Template":65},{"x":17400,"2d":8,"Complement":9,"Template":95},{"x":17500,"2d":8,"Complement":9,"Template":130},{"x":17600,"2d":8,"Complement":9,"Template":180},{"x":17700,"2d":8,"Complement":9,"Template":225},{"x":17800,"2d":8,"Complement":9,"Template":210},{"x":17900,"2d":8,"Complement":9,"Template":150},{"x":17960,"2d":7,"Complement":8,"Template":90},
{"x":18000,"2d":80,"Complement":80,"Template":84},{"x":18040,"2d":480,"Complement":400,"Template":780},{"x":18100,"2d":520,"Complement":440,"Template":840},{"x":18200,"2d":535,"Complement":460,"Template":885},{"x":18300,"2d":540,"Complement":470,"Template":855},{"x":18400,"2d":548,"Complement":475,"Template":820},{"x":18500,"2d":555,"Complement":485,"Template":780},{"x":18600,"2d":565,"Complement":480,"Template":720},{"x":18700,"2d":560,"Complement":490,"Template":670},{"x":18800,"2d":562,"Complement":485,"Template":620},{"x":18900,"2d":558,"Complement":480,"Template":575},{"x":19000,"2d":555,"Complement":488,"Template":558},{"x":19100,"2d":553,"Complement":482,"Template":570},{"x":19200,"2d":550,"Complement":478,"Template":600},{"x":19300,"2d":552,"Complement":485,"Template":640},{"x":19400,"2d":548,"Complement":480,"Template":700},{"x":19500,"2d":550,"Complement":475,"Template":790},{"x":19600,"2d":545,"Complement":482,"Template":880},{"x":19700,"2d":540,"Complement":470,"Template":920},{"x":19800,"2d":530,"Complement":465,"Template":910},{"x":19900,"2d":515,"Complement":450,"Template":870},{"x":19960,"2d":420,"Complement":380,"Template":700},
{"x":20000,"2d":0,"Complement":0,"Template":0},{"x":20040,"2d":22,"Complement":26,"Template":25},{"x":20100,"2d":25,"Complement":30,"Template":32},{"x":20200,"2d":26,"Complement":31,"Template":30},{"x":20300,"2d":26,"Complement":31,"Template":29},{"x":20400,"2d":26,"Complement":31,"Template":28},{"x":20500,"2d":26,"Complement":32,"Template":27},{"x":20600,"2d":26,"Complement":32,"Template":26},{"x":20700,"2d":26,"Complement":32,"Template":25},{"x":20800,"2d":27,"Complement":32,"Template":27},{"x":20900,"2d":27,"Complement":33,"Template":30},{"x":21000,"2d":27,"Complement":33,"Template":35},{"x":21100,"2d":27,"Complement":33,"Template":50},{"x":21200,"2d":27,"Complement":34,"Template":68},{"x":21300,"2d":27,"Complement":34,"Template":95},{"x":21400,"2d":27,"Complement":34,"Template":120},{"x":21500,"2d":27,"Complement":34,"Template":145},{"x":21600,"2d":27,"Complement":34,"Template":165},{"x":21700,"2d":26,"Complement":33,"Template":182},{"x":21800,"2d":26,"Complement":33,"Template":185},{"x":21900,"2d":25,"Complement":32,"Template":165},{"x":21960,"2d":20,"Complement":25,"Template":90},
{"x":22000,"2d":5,"Complement":5,"Template":5}
]},
"vconcat":[
{"title":{"text":"a"},"width":718,"height":287,"data":{"name":"a"},
"transform":[{"fold":["2d","Complement","Template"],"as":["Read Type","depth"]}],
"mark":{"type":"line","strokeWidth":1.3,"strokeJoin":"round"},
"encoding":{
"x":{"field":"x","type":"quantitative","scale":{"domain":[-1100,23100],"nice":false,"zero":false},"axis":{"values":[0,5000,10000,15000,20000],"format":"d","title":null}},
"y":{"field":"depth","type":"quantitative","scale":{"domain":[-40.4,848.4],"nice":false,"zero":false},"axis":{"values":[0,200,400,600,800],"format":"d","title":null}},
"color":{"field":"Read Type","type":"nominal","scale":{"domain":["2d","Complement","Template"],"range":["#999999","#E69F00","#56B4E9"]},
"legend":{"orient":"none","legendX":193,"legendY":1051,"direction":"horizontal","titleOrient":"left","titleFontSize":16.5,"titleFontWeight":"normal","titleColor":"black","titlePadding":4,"labelFontSize":13.7,"labelColor":"black","symbolType":"stroke","symbolSize":361,"symbolStrokeWidth":7,"labelOffset":5,"columnPadding":-9}}}},
{"title":{"text":"b"},"width":718,"height":287,"data":{"name":"b"},
"transform":[{"fold":["2d","Complement","Template"],"as":["Read Type","depth"]}],
"mark":{"type":"line","strokeWidth":1.3,"strokeJoin":"round"},
"encoding":{
"x":{"field":"x","type":"quantitative","scale":{"domain":[-1100,23100],"nice":false,"zero":false},"axis":{"values":[0,5000,10000,15000,20000],"format":"d","title":null}},
"y":{"field":"depth","type":"quantitative","scale":{"domain":[-82,1722],"nice":false,"zero":false},"axis":{"values":[0,500,1000,1500],"format":"d","title":"Coverage Depth","titlePadding":5}},
"color":{"field":"Read Type","type":"nominal","scale":{"domain":["2d","Complement","Template"],"range":["#999999","#E69F00","#56B4E9"]}}}},
{"title":{"text":"c"},"width":718,"height":287,"data":{"name":"c"},
"transform":[{"fold":["2d","Complement","Template"],"as":["Read Type","depth"]}],
"mark":{"type":"line","strokeWidth":1.3,"strokeJoin":"round"},
"encoding":{
"x":{"field":"x","type":"quantitative","scale":{"domain":[-1100,23100],"nice":false,"zero":false},"axis":{"values":[0,5000,10000,15000,20000],"format":"d","title":"Genome Position (bp)","titlePadding":3}},
"y":{"field":"depth","type":"quantitative","scale":{"domain":[-46,973],"nice":false,"zero":false},"axis":{"values":[0,250,500,750],"format":"d","title":null}},
"color":{"field":"Read Type","type":"nominal","scale":{"domain":["2d","Complement","Template"],"range":["#999999","#E69F00","#56B4E9"]}}}}
]
}
